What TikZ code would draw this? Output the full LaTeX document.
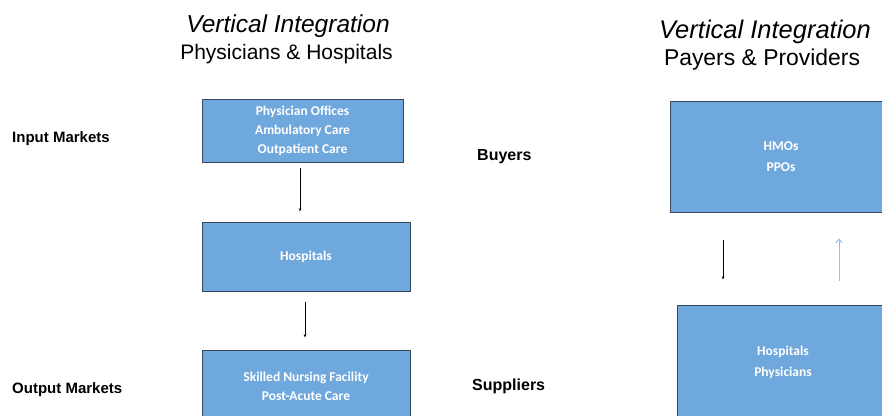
\documentclass[tikz,border=0pt]{standalone}
\usepackage{fontspec}
\setmainfont{Liberation Sans}
\newfontfamily\boxfont{Carlito}
\usetikzlibrary{arrows.meta}
\definecolor{boxfill}{RGB}{111,168,220}
\definecolor{boxline}{RGB}{55,70,90}
\definecolor{lightarrow}{RGB}{150,192,228}
\tikzset{
  boxnode/.style={draw=boxline, line width=0.9pt, fill=boxfill, text=white,
    align=center, inner sep=0pt, font=\boxfont\bfseries\fontsize{13.5}{19}\selectfont},
  lbl/.style={anchor=base west, inner sep=0pt, font=\bfseries\fontsize{15}{18}\selectfont},
  title/.style={anchor=base, inner sep=0pt},
  arr/.style={draw=black, line width=0.6pt, -{Stealth[length=3.5pt,width=2.6pt]}},
  uparr/.style={draw=lightarrow, line width=1pt, -{Straight Barb[length=3.5pt,width=6pt]}}
}
\begin{document}
\begin{tikzpicture}[x=1pt,y=-1pt]
\useasboundingbox (0,0) rectangle (882,415);
\clip (0,0) rectangle (882,415);
\fill[white] (0,0) rectangle (882,415);

% titles
\node[title, font=\itshape\fontsize{24.5}{29}\selectfont] (t1) at (288,32) {Vertical Integration};
\node[title, font=\fontsize{21}{25}\selectfont] (t2) at (286.5,59) {Physicians \& Hospitals};
\node[title, font=\itshape\fontsize{25.5}{30}\selectfont] (t3) at (765,38) {Vertical Integration};
\node[title, font=\fontsize{22.9}{27}\selectfont] (t4) at (762,65) {Payers \& Providers};

% side labels
\node[lbl] (inm) at (12,142) {Input Markets};
\node[lbl] (outm) at (12,393) {Output Markets};
\node[lbl, font=\bfseries\fontsize{16}{19}\selectfont] (buy) at (477,160) {Buyers};
\node[lbl, font=\bfseries\fontsize{16}{19}\selectfont] (sup) at (472,390) {Suppliers};

% left boxes
\node[boxnode, minimum width=201pt, minimum height=63pt] (b1) at (302.5,130.5)
  {Physician Offices\\Ambulatory Care\\Outpatient Care};
\node[boxnode, minimum width=208pt, minimum height=69pt] (b2) at (306,256.5) {Hospitals};
\node[boxnode, minimum width=208pt, minimum height=73pt] (b3) at (306,386.5)
  {Skilled Nursing Facility\\Post-Acute Care};

% right boxes
\node[boxnode, minimum width=222pt, minimum height=111pt, font=\boxfont\bfseries\fontsize{13.5}{21}\selectfont] (hmo) at (781,156.5)
  {HMOs\\PPOs};
\node[boxnode, minimum width=212pt, minimum height=115pt, font=\boxfont\bfseries\fontsize{13.5}{21}\selectfont] (hp) at (783,362.5)
  {Hospitals\\Physicians};

% connectors
\draw[arr] ([shift={(-2.5,6)}]b1.south) -- ([shift={(-6,-10)}]b2.north);
\draw[arr] ([shift={(-1,11)}]b2.south) -- ([shift={(-1,-12)}]b3.north);
\draw[arr] ([shift={(-58,28)}]hmo.south) -- ([shift={(-60,-25)}]hp.north);
\draw[uparr] ([shift={(56,-24)}]hp.north) -- ([shift={(58,26)}]hmo.south);
\end{tikzpicture}
\end{document}
